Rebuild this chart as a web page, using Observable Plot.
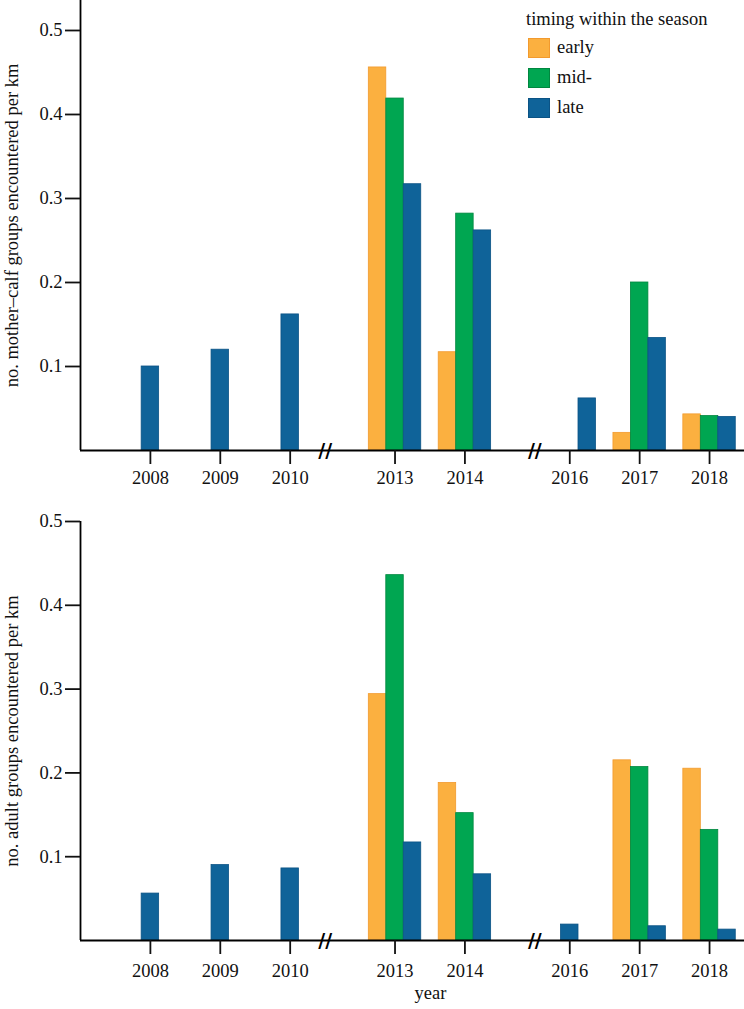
<!DOCTYPE html>
<html>
<head>
<meta charset="utf-8">
<script src="https://cdn.jsdelivr.net/npm/d3@7"></script>
<script src="https://cdn.jsdelivr.net/npm/@observablehq/plot@0.6"></script>
<style>
  body { margin: 0; background: #fff; }
  #wrap { position: relative; width: 744px; font-family: "Liberation Serif", "Times New Roman", serif; }
  .panel { position: relative; width: 744px; }
  .legend { position: absolute; left: 526px; top: 0; color: #111; }
  .legend .title { position: absolute; left: 0; top: 9px; font-size: 18.5px; line-height: 21px; white-space: nowrap; }
  .legend .sw { position: absolute; left: 2px; width: 22px; height: 20px; box-sizing: border-box; }
  .legend .lab { position: absolute; left: 31px; font-size: 18.5px; line-height: 21px; white-space: nowrap; }
</style>
</head>
<body>
<div id="wrap">
  <div class="panel" id="top"></div>
  <div class="panel" id="bottom"></div>
</div>
<script>
// ---- data ----
const years = [2008, 2009, 2010, 2013, 2014, 2016, 2017, 2018];
const seasons = ["early", "mid-", "late"];
const seasonColors = ["#FBB040", "#00A651", "#0F6399"];
const seasonStrokes = ["#F29A2E", "#00873F", "#0B5385"];

// mother–calf groups per km
const calfEarly = [null, null, null, 0.456, 0.117, 0, 0.021, 0.043];
const calfMid   = [null, null, null, 0.419, 0.282, 0, 0.200, 0.041];
const calfLate  = [0.100, 0.120, 0.162, 0.317, 0.262, 0.062, 0.134, 0.040];

// adult groups per km
const adultEarly = [null, null, null, 0.294, 0.188, null, 0.215, 0.205];
const adultMid   = [null, null, null, 0.436, 0.152, null, 0.207, 0.132];
const adultLate  = [0.056, 0.090, 0.086, 0.117, 0.079, 0.019, 0.017, 0.013];

const yTicks = [0.1, 0.2, 0.3, 0.4, 0.5];
const legendTitle = "timing within the season";
const calfLabel = "no. mother\u2013calf groups encountered per km";
const adultLabel = "no. adult groups encountered per km";
const xLabel = "year";

// ---- layout of the broken year axis ----
const slot = {2008: 1, 2009: 2, 2010: 3, 2013: 4.5, 2014: 5.5, 2016: 7, 2017: 8, 2018: 9};
const breaks = [3.5, 6.5];
const barW = 0.25;

function rows(early, mid, late) {
  const out = [];
  years.forEach((yr, i) => {
    const vals = [early[i], mid[i], late[i]];
    const grouped = vals.every(v => v != null);
    vals.forEach((v, s) => {
      if (v == null || v <= 0) return;
      const c = slot[yr] + (grouped ? (s - 1) * barW : 0);
      out.push({year: yr, season: seasons[s], s, value: v, x1: c - barW / 2, x2: c + barW / 2});
    });
  });
  return out;
}

const FONT = "Liberation Serif, Times New Roman, serif";
const FS = 18.5;

function panel({data, height, marginTop, marginBottom, yMax, label, tickPad, showYear}) {
  const marks = [
    Plot.rect(data, {
      x1: "x1", x2: "x2", y1: 0, y2: "value",
      fill: d => seasonColors[d.s], stroke: d => seasonStrokes[d.s], strokeWidth: 0.8
    }),
    Plot.ruleY([0], {stroke: "#000", strokeWidth: 1.8}),
    Plot.ruleX([0], {stroke: "#000", strokeWidth: 1.8}),
    Plot.axisY({
      ticks: yTicks, tickFormat: d3.format(".1f"), tickSize: 15, tickPadding: 3,
      fontSize: FS, fontFamily: FONT, strokeWidth: 1.8, label: null
    }),
    Plot.axisX({
      ticks: years.map(y => slot[y]),
      tickFormat: d => String(years.find(y => slot[y] === d)),
      tickSize: 14, tickPadding: tickPad, fontSize: FS, fontFamily: FONT, strokeWidth: 1.8, label: null
    }),
    Plot.text([label], {
      text: d => d, frameAnchor: "left", dx: -68, rotate: -90,
      textAnchor: "middle", lineAnchor: "middle",
      fontSize: FS, fontFamily: FONT, fill: "#111"
    }),
    Plot.text(breaks, {
      x: d => d, y: 0, text: () => "//", fontSize: 19, fontWeight: "bold",
      fontFamily: "DejaVu Sans", fill: "#000"
    })
  ];
  if (showYear) {
    marks.push(Plot.text([xLabel], {
      text: d => d, frameAnchor: "bottom", dx: 18, dy: 58,
      fontSize: FS, fontFamily: FONT, fill: "#111"
    }));
  }
  return Plot.plot({
    width: 744, height, marginLeft: 80, marginRight: 0, marginTop, marginBottom,
    style: {fontFamily: FONT, color: "#111", background: "#fff", overflow: "visible"},
    x: {type: "linear", domain: [0, 9.5]},
    y: {domain: [0, yMax]},
    marks
  });
}

const topChart = panel({
  data: rows(calfEarly, calfMid, calfLate),
  height: 500, marginTop: 0, marginBottom: 50, yMax: 0.5357,
  label: calfLabel, tickPad: 6, showYear: false
});
const bottomChart = panel({
  data: rows(adultEarly, adultMid, adultLate),
  height: 509, marginTop: 21, marginBottom: 69, yMax: 0.5,
  label: adultLabel, tickPad: 9, showYear: true
});

document.getElementById("top").appendChild(topChart);
document.getElementById("bottom").appendChild(bottomChart);

// legend inside the top panel
const leg = document.createElement("div");
leg.className = "legend";
const t = document.createElement("div");
t.className = "title";
t.textContent = legendTitle;
leg.appendChild(t);
seasons.forEach((s, i) => {
  const sw = document.createElement("div");
  sw.className = "sw";
  sw.style.top = (38 + i * 30) + "px";
  sw.style.background = seasonColors[i];
  sw.style.border = "1px solid " + seasonStrokes[i];
  leg.appendChild(sw);
  const lb = document.createElement("div");
  lb.className = "lab";
  lb.style.top = (37 + i * 30) + "px";
  lb.textContent = s;
  leg.appendChild(lb);
});
document.getElementById("top").appendChild(leg);
</script>
</body>
</html>
